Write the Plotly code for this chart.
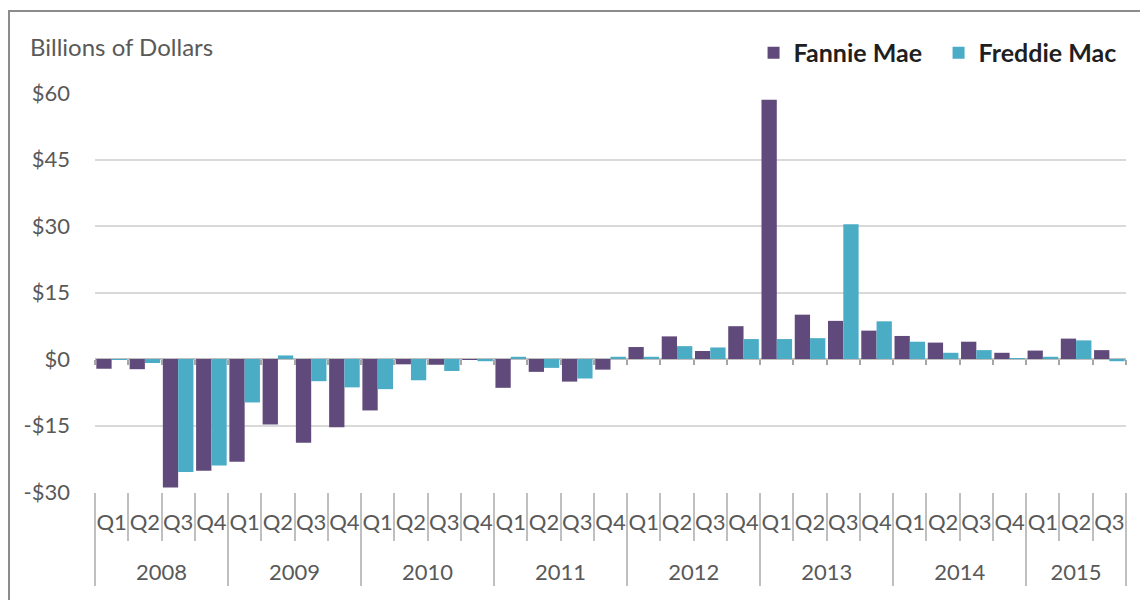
import plotly.graph_objects as go

# ---------------- data ----------------
years = ["2008", "2009", "2010", "2011", "2012", "2013", "2014", "2015"]
quarters_per_year = [4, 4, 4, 4, 4, 4, 4, 3]
quarter_names = ["Q1", "Q2", "Q3", "Q4"]

fannie_mae = [-2.2, -2.3, -29.0, -25.2,
              -23.2, -14.8, -18.9, -15.4,
              -11.6, -1.2, -1.3, -0.1,
              -6.5, -2.9, -5.1, -2.4,
              2.7, 5.1, 1.8, 7.4,
              58.5, 10.0, 8.6, 6.4,
              5.2, 3.7, 3.9, 1.4,
              1.9, 4.6, 2.0]
freddie_mac = [-0.2, -0.9, -25.5, -24.0,
               -9.8, 0.8, -5.0, -6.4,
               -6.8, -4.8, -2.7, -0.5,
               0.5, -2.0, -4.4, 0.5,
               0.5, 2.9, 2.6, 4.5,
               4.5, 4.7, 30.4, 8.5,
               3.9, 1.4, 2.0, 0.2,
               0.5, 4.2, -0.5]

y_ticks = [-30, -15, 0, 15, 30, 45, 60]
y_tick_text = ["-$30", "-$15", "$0", "$15", "$30", "$45", "$60"]

# ---------------- derived categories ----------------
periods, quarter_labels = [], []
for yr, n in zip(years, quarters_per_year):
    for q in quarter_names[:n]:
        periods.append(f"{yr} {q}")
        quarter_labels.append(q)
n_periods = len(periods)

year_centers, year_bounds = [], [-0.5]
start = 0
for n in quarters_per_year:
    year_centers.append(start + (n - 1) / 2)
    start += n
    year_bounds.append(start - 0.5)
all_bounds = [i - 0.5 for i in range(n_periods + 1)]

FONT = "Lato"
TICK_COLOR = "#595959"
PURPLE = "#604A7B"
AQUA = "#4BACC6"
SEP = "#BFBFBF"

fig = go.Figure()
fig.add_trace(go.Bar(name="Fannie Mae", x=periods, y=fannie_mae,
                     marker=dict(color=PURPLE, line=dict(width=0))))
fig.add_trace(go.Bar(name="Freddie Mac", x=periods, y=freddie_mac,
                     marker=dict(color=AQUA, line=dict(width=0))))
# helper (invisible) traces to activate overlay axes
for ax in ["x2", "x3"]:
    fig.add_trace(go.Scatter(x=[-0.5, n_periods - 0.5], y=[0, 0], xaxis=ax, yaxis="y",
                             mode="markers", marker=dict(opacity=0), showlegend=False,
                             hoverinfo="skip"))

fig.update_layout(
    width=1140, height=592,
    margin=dict(l=87, r=22, t=85, b=108, autoexpand=False),
    paper_bgcolor="white", plot_bgcolor="white",
    barmode="group", bargap=0.08, bargroupgap=0,
    font=dict(family=FONT, color=TICK_COLOR, size=22),
    showlegend=True,
    legend=dict(orientation="h", xref="container", yref="container",
                x=0.654, xanchor="left", y=0.924, yanchor="middle",
                entrywidth=140, entrywidthmode="pixels",
                font=dict(family=FONT, size=25, color="#1F1F1F", weight="bold"),
                bgcolor="rgba(0,0,0,0)", traceorder="normal"),
    xaxis=dict(type="category", categoryorder="array", categoryarray=periods,
               tickmode="array", tickvals=periods, ticktext=quarter_labels,
               tickangle=0, automargin=False,
               ticks="outside", tickson="boundaries", ticklen=48,
               tickcolor=SEP, tickwidth=1.5,
               ticklabelstandoff=15,
               showgrid=False, showline=False, zeroline=False,
               tickfont=dict(family=FONT, size=22, color=TICK_COLOR),
               range=[-0.5, n_periods - 0.5]),
    xaxis2=dict(overlaying="x", anchor="y", side="bottom", type="linear",
                range=[-0.5, n_periods - 0.5], tickangle=0, automargin=False,
                tickmode="array", tickvals=year_centers, ticktext=years,
                ticks="", showgrid=False, showline=False, zeroline=False,
                minor=dict(tickmode="array", tickvals=year_bounds, ticks="outside",
                           ticklen=93, tickcolor=SEP, tickwidth=1.5, showgrid=False),
                ticklabelstandoff=65,
                tickfont=dict(family=FONT, size=22, color=TICK_COLOR)),
    xaxis3=dict(overlaying="x", anchor="free", position=1/3, side="bottom",
                type="linear", range=[-0.5, n_periods - 0.5], automargin=False,
                tickmode="array", tickvals=all_bounds, ticks="outside", ticklen=5,
                tickcolor="#A6A6A6", tickwidth=1.5, showticklabels=False,
                showgrid=False, showline=False, zeroline=False),
    yaxis=dict(range=[-30, 60], tickmode="array", tickvals=y_ticks, ticktext=y_tick_text,
               automargin=False,
               showgrid=True, gridcolor="#D9D9D9", gridwidth=1.5,
               zeroline=True, zerolinecolor="#BFBFBF", zerolinewidth=1.5,
               showline=False, ticks="", ticklabelstandoff=24,
               tickfont=dict(family=FONT, size=22, color=TICK_COLOR)),
    annotations=[dict(text="Billions of Dollars", xref="paper", yref="paper",
                      x=-0.065, y=1.116, xanchor="left", yanchor="middle",
                      showarrow=False, font=dict(family=FONT, size=24, color=TICK_COLOR))],
    shapes=[dict(type="rect", xref="paper", yref="paper",
                 x0=-0.0834, x1=1.05, y0=-0.3, y1=1.2055,
                 line=dict(color="#8C8C8C", width=2), fillcolor="rgba(0,0,0,0)",
                 layer="below")],
)

fig.write_html("out.html")
